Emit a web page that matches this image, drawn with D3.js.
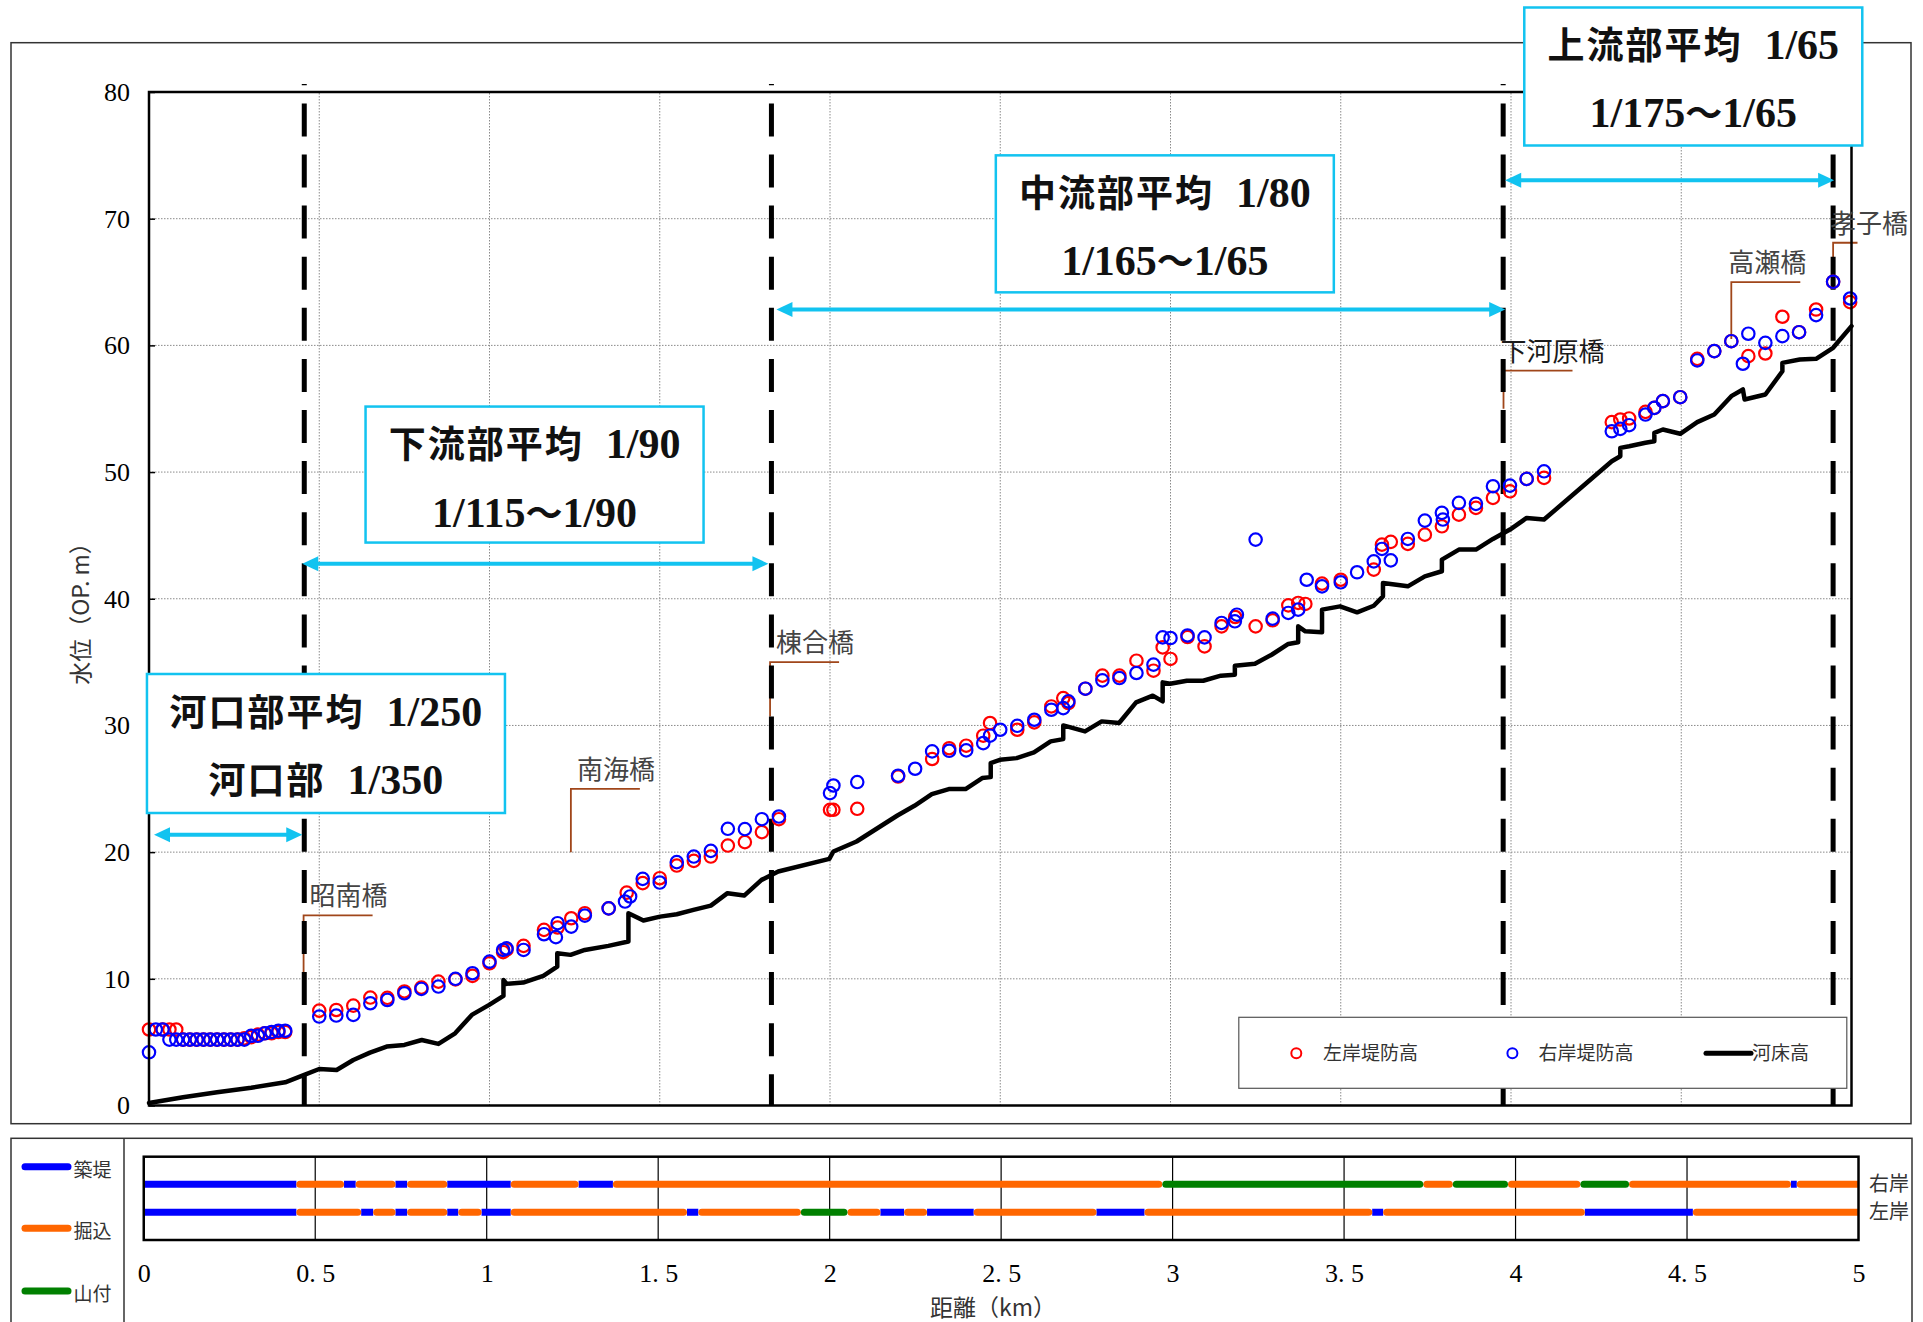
<!DOCTYPE html>
<html>
<head>
<meta charset="utf-8">
<script src="https://cdn.jsdelivr.net/npm/d3@7"></script>
<style>
  html, body { margin: 0; padding: 0; background: #fff; }
  svg { display: block; }
</style>
</head>
<body>
<svg id="chart" width="1923" height="1322"></svg>
<script>
// ---------------- data ----------------
const xTicks = [0, 0.5, 1, 1.5, 2, 2.5, 3, 3.5, 4, 4.5, 5];
const yTicks = [0, 10, 20, 30, 40, 50, 60, 70, 80];

// 左岸堤防高 [距離 km, 標高 m]
const leftBank = [
  [0.00,6.0],[0.04,6.0],[0.06,6.0],[0.08,6.0],[0.10,5.2],[0.12,5.2],[0.14,5.2],[0.16,5.2],
  [0.18,5.2],[0.20,5.2],[0.22,5.2],[0.24,5.2],[0.26,5.2],[0.28,5.3],[0.30,5.4],[0.32,5.6],
  [0.34,5.7],[0.36,5.7],[0.38,5.8],[0.40,5.8],
  [0.50,7.49],[0.55,7.54],[0.60,7.88],[0.65,8.52],[0.70,8.5],[0.75,9.0],[0.80,9.31],[0.85,9.78],
  [0.90,9.95],[0.95,10.23],[1.00,11.23],[1.04,12.1],[1.05,12.3],[1.10,12.6],[1.16,13.86],[1.20,14.05],
  [1.24,14.78],[1.28,15.18],[1.35,15.56],[1.403,16.8],[1.45,17.55],[1.50,17.94],[1.55,18.94],[1.60,19.31],
  [1.65,19.65],[1.70,20.52],[1.75,20.79],[1.80,21.58],[1.85,22.6],[2.00,23.34],[2.01,23.34],[2.08,23.42],
  [2.20,25.97],[2.30,27.35],[2.35,28.2],[2.40,28.4],[2.45,29.19],[2.47,30.19],[2.55,29.66],[2.60,30.24],
  [2.65,31.5],[2.685,32.16],[2.70,31.77],[2.75,32.9],[2.80,33.93],[2.85,33.93],[2.90,35.11],[2.95,34.32],
  [2.977,36.16],[3.00,35.25],[3.05,36.98],[3.10,36.24],[3.15,37.82],[3.19,38.56],[3.25,37.82],[3.30,38.3],
  [3.346,39.48],[3.375,39.67],[3.396,39.59],[3.445,41.19],[3.50,41.5],[3.597,42.3],[3.621,44.27],[3.647,44.49],
  [3.697,44.33],[3.747,45.06],[3.797,45.72],[3.847,46.64],[3.897,47.17],[3.947,47.96],[3.997,48.48],[4.046,49.46],
  [4.097,49.54],[4.296,53.94],[4.321,54.15],[4.347,54.23],[4.395,54.75],[4.421,55.07],[4.446,55.6],[4.497,55.91],
  [4.547,58.94],[4.597,59.55],[4.647,60.33],[4.697,59.15],[4.747,59.36],[4.797,62.26],[4.846,61.04],[4.896,62.83],
  [4.946,65.02],[4.996,63.41]
];

// 右岸堤防高 [距離 km, 標高 m]
const rightBank = [
  [0.00,4.2],[0.02,6.0],[0.04,6.0],[0.06,5.2],[0.08,5.2],[0.10,5.2],[0.12,5.2],[0.14,5.2],
  [0.16,5.2],[0.18,5.2],[0.20,5.2],[0.22,5.2],[0.24,5.2],[0.26,5.2],[0.28,5.2],[0.30,5.5],
  [0.32,5.5],[0.34,5.7],[0.36,5.8],[0.38,5.9],[0.40,5.9],
  [0.50,7.02],[0.55,7.1],[0.60,7.15],[0.65,8.07],[0.70,8.33],[0.75,8.86],[0.80,9.2],[0.85,9.39],
  [0.90,10.0],[0.95,10.44],[1.00,11.36],[1.04,12.28],[1.05,12.4],[1.10,12.28],[1.16,13.52],[1.195,13.29],
  [1.20,14.39],[1.24,14.12],[1.28,14.99],[1.35,15.56],[1.398,16.1],[1.413,16.5],[1.45,17.89],[1.50,17.6],
  [1.55,19.21],[1.60,19.65],[1.65,20.1],[1.70,21.84],[1.75,21.82],[1.80,22.6],[1.85,22.81],[2.00,24.66],
  [2.01,25.26],[2.08,25.53],[2.20,26.03],[2.25,26.58],[2.30,27.95],[2.35,28.0],[2.40,28.03],[2.45,28.6],
  [2.47,29.19],[2.50,29.66],[2.55,29.97],[2.60,30.45],[2.65,31.24],[2.685,31.37],[2.70,31.9],[2.75,32.9],
  [2.80,33.56],[2.85,33.74],[2.90,34.14],[2.95,34.8],[2.977,36.95],[3.00,36.9],[3.05,37.1],[3.10,36.95],
  [3.15,38.09],[3.189,38.22],[3.195,38.74],[3.25,44.67],[3.30,38.43],[3.346,38.88],[3.375,39.14],[3.40,41.5],
  [3.445,40.98],[3.50,41.3],[3.548,42.09],[3.597,42.95],[3.621,43.93],[3.647,43.03],[3.697,44.72],[3.747,46.17],
  [3.797,46.78],[3.80,46.25],[3.847,47.57],[3.897,47.49],[3.947,48.88],[3.997,48.93],[4.046,49.46],[4.097,50.06],
  [4.296,53.22],[4.321,53.41],[4.347,53.7],[4.395,54.54],[4.421,55.07],[4.446,55.6],[4.497,55.91],[4.547,58.81],
  [4.597,59.55],[4.647,60.33],[4.681,58.55],[4.697,60.92],[4.747,60.2],[4.797,60.73],[4.846,61.04],[4.896,62.39],
  [4.946,65.02],[4.996,63.7]
];

// 河床高 [距離 km, 標高 m]
const riverbed = [
  [0,0.2],[0.1,0.65],[0.2,1.05],[0.3,1.4],[0.4,1.83],[0.456,2.41],[0.50,2.88],[0.551,2.8],
  [0.60,3.59],[0.649,4.17],[0.698,4.65],[0.75,4.78],[0.801,5.17],[0.85,4.86],[0.899,5.7],[0.948,7.15],
  [0.999,7.94],[1.041,8.65],[1.041,9.91],[1.05,9.6],[1.099,9.7],[1.158,10.23],[1.199,10.96],[1.199,12.02],
  [1.238,11.89],[1.28,12.28],[1.349,12.6],[1.408,12.94],[1.408,15.18],[1.452,14.6],[1.501,14.91],[1.55,15.1],
  [1.599,15.44],[1.65,15.78],[1.699,16.76],[1.748,16.57],[1.799,17.81],[1.848,18.47],[1.998,19.47],[2.01,20.05],
  [2.078,20.84],[2.198,22.89],[2.248,23.66],[2.299,24.58],[2.349,24.98],[2.398,24.98],[2.447,25.85],[2.472,25.92],
  [2.472,27.03],[2.499,27.29],[2.548,27.42],[2.599,27.87],[2.648,28.74],[2.685,28.92],[2.685,30.0],[2.749,29.53],
  [2.798,30.32],[2.849,30.19],[2.899,31.82],[2.948,32.35],[2.977,31.9],[2.977,33.4],[2.999,33.29],[3.048,33.53],
  [3.096,33.53],[3.148,33.93],[3.189,34.0],[3.189,34.72],[3.248,34.87],[3.297,35.58],[3.346,36.43],[3.375,36.56],
  [3.375,37.82],[3.396,37.43],[3.445,37.35],[3.445,39.14],[3.498,39.4],[3.548,38.93],[3.597,39.45],[3.624,40.19],
  [3.624,41.25],[3.697,40.98],[3.747,41.77],[3.797,42.17],[3.797,43.09],[3.847,43.88],[3.897,43.88],[3.947,44.72],
  [3.997,45.46],[4.046,46.38],[4.097,46.25],[4.296,50.85],[4.321,51.25],[4.321,51.91],[4.347,52.04],[4.395,52.31],
  [4.421,52.43],[4.421,53.1],[4.446,53.36],[4.497,53.02],[4.547,53.94],[4.597,54.54],[4.647,55.99],[4.681,56.52],
  [4.686,55.73],[4.747,56.12],[4.797,57.96],[4.797,58.62],[4.848,58.88],[4.896,58.94],[4.946,59.81],[5.0,61.52]
];

// 区間ごとの平均勾配
const sectionNames = ["河口部", "下流部", "中流部", "上流部"];
const sectionStart = [0, 0.456, 1.828, 3.977];
const sectionEnd   = [0.456, 1.828, 3.977, 4.946];
const sectionAvg   = ["1/250", "1/90", "1/80", "1/65"];
const sectionRange = [["1/350"], ["1/115", "1/90"], ["1/165", "1/65"], ["1/175", "1/65"]];

// 橋梁 [名称, 距離 km, 引出線の高さ, 引出線の下端]
const bridges = [
  ["昭南橋", 0.454, 15.0, 10.5],
  ["南海橋", 1.239, 25.0, 20.0],
  ["棟合橋", 1.824, 35.0, 30.7],
  ["下河原橋", 3.978, 58.0, 55.0],
  ["高瀬橋", 4.647, 65.0, 60.5],
  ["孝子橋", 4.946, 68.1, 66.9]
];

// 護岸区分 [始点 km, 終点 km, 区分]
const bankTypes = ["築堤", "掘込", "山付"];
const rightBankType = [
  [0,0.445,"築堤"],[0.445,0.584,"掘込"],[0.584,0.618,"築堤"],[0.618,0.734,"掘込"],[0.734,0.768,"築堤"],
  [0.768,0.885,"掘込"],[0.885,1.070,"築堤"],[1.070,1.268,"掘込"],[1.268,1.368,"築堤"],[1.368,2.970,"掘込"],
  [2.970,3.731,"山付"],[3.731,3.817,"掘込"],[3.817,3.978,"山付"],[3.978,4.189,"掘込"],[4.189,4.331,"山付"],
  [4.331,4.803,"掘込"],[4.803,4.820,"築堤"],[4.820,5.0,"掘込"]
];
const leftBankType = [
  [0,0.445,"築堤"],[0.445,0.634,"掘込"],[0.634,0.669,"築堤"],[0.669,0.734,"掘込"],[0.734,0.768,"築堤"],
  [0.768,0.885,"掘込"],[0.885,0.917,"築堤"],[0.917,0.985,"掘込"],[0.985,1.070,"築堤"],[1.070,1.584,"掘込"],
  [1.584,1.617,"築堤"],[1.617,1.916,"掘込"],[1.916,2.052,"山付"],[2.052,2.148,"掘込"],[2.148,2.217,"築堤"],
  [2.217,2.284,"掘込"],[2.284,2.420,"築堤"],[2.420,2.778,"掘込"],[2.778,2.918,"築堤"],[2.918,3.582,"掘込"],
  [3.582,3.614,"築堤"],[3.614,4.202,"掘込"],[4.202,4.517,"築堤"],[4.517,5.0,"掘込"]
];

// ---------------- layout & style ----------------
const JP = "'Noto Sans CJK JP', 'Noto Sans', sans-serif";
const SERIF = "'Liberation Serif', 'DejaVu Serif', serif";
const CYAN = "#12C3F0";
const BROWN = "#A0461A";
const typeColor = { "築堤": "#0000FF", "掘込": "#FF6600", "山付": "#008000" };

const svg = d3.select("#chart");

const x = d3.scaleLinear().domain([0, 5]).range([149, 1851.5]);
const y = d3.scaleLinear().domain([0, 80]).range([1105.5, 92]);
const xs = d3.scaleLinear().domain([0, 5]).range([143.75, 1858.5]);

// outer frames
svg.append("rect").attr("x", 11).attr("y", 42.7).attr("width", 1900).attr("height", 1081)
  .attr("fill", "none").attr("stroke", "#333").attr("stroke-width", 1.5);
svg.append("rect").attr("x", 11).attr("y", 1138.3).attr("width", 1901).attr("height", 200)
  .attr("fill", "none").attr("stroke", "#333").attr("stroke-width", 1.5);
svg.append("line").attr("x1", 124).attr("x2", 124).attr("y1", 1138.3).attr("y2", 1322)
  .attr("stroke", "#333").attr("stroke-width", 1.5);

// ---------------- main plot ----------------
const grid = svg.append("g").attr("stroke", "#8a8a8a").attr("stroke-width", 1).attr("stroke-dasharray", "1.5,1.5");
yTicks.filter(v => v > 0 && v < 80).forEach(v => {
  grid.append("line").attr("x1", x(0)).attr("x2", x(5)).attr("y1", y(v)).attr("y2", y(v));
});
xTicks.filter(k => k > 0 && k < 5).forEach(k => {
  grid.append("line").attr("x1", x(k)).attr("x2", x(k)).attr("y1", y(0)).attr("y2", y(80));
});

// bridge leader lines
const bridgeG = svg.append("g");
bridges.forEach(([name, km, level, low]) => {
  const bx = x(km), by = y(level);
  const runEnd = Math.min(bx + 69, x(5) + 6);
  bridgeG.append("path")
    .attr("d", `M${runEnd},${by}H${bx}V${y(low)}`)
    .attr("fill", "none").attr("stroke", BROWN).attr("stroke-width", 1.8);
});

// section boundaries
sectionEnd.forEach(km => {
  svg.append("line").attr("x1", x(km)).attr("x2", x(km)).attr("y1", 84).attr("y2", y(0))
    .attr("stroke", "#000").attr("stroke-width", 5)
    .attr("stroke-dasharray", "33,18.1").attr("stroke-dashoffset", 31.7);
});

// riverbed
svg.append("path").datum(riverbed)
  .attr("d", d3.line().x(d => x(d[0])).y(d => y(d[1])))
  .attr("fill", "none").attr("stroke", "#000").attr("stroke-width", 4.5)
  .attr("stroke-linejoin", "round").attr("stroke-linecap", "round");

// bank crest heights
svg.append("g").selectAll("circle").data(leftBank).join("circle")
  .attr("cx", d => x(d[0])).attr("cy", d => y(d[1])).attr("r", 6.2)
  .attr("fill", "none").attr("stroke", "#FF0000").attr("stroke-width", 2.2);
svg.append("g").selectAll("circle").data(rightBank).join("circle")
  .attr("cx", d => x(d[0])).attr("cy", d => y(d[1])).attr("r", 6.2)
  .attr("fill", "none").attr("stroke", "#0000FF").attr("stroke-width", 2.2);

// plot frame
svg.append("rect").attr("x", x(0)).attr("y", y(80)).attr("width", x(5) - x(0)).attr("height", y(0) - y(80))
  .attr("fill", "none").attr("stroke", "#000").attr("stroke-width", 2.5);

// y axis
svg.append("g").attr("transform", `translate(${x(0)},0)`)
  .call(d3.axisLeft(y).tickValues(yTicks).tickSizeInner(-6).tickSizeOuter(0).tickPadding(19))
  .call(g => g.select(".domain").remove())
  .call(g => g.selectAll("line").attr("stroke", "#000").attr("stroke-width", 1.5))
  .call(g => g.selectAll("text").attr("font-family", SERIF).attr("font-size", 26).attr("fill", "#000"));

svg.append("text").attr("transform", "translate(89,608) rotate(-90)")
  .attr("text-anchor", "middle").attr("font-family", JP).attr("font-size", 23).attr("fill", "#333")
  .text("水位（OP. m）");

// legend
const lg = svg.append("g");
lg.append("rect").attr("x", 1238.8).attr("y", 1017.3).attr("width", 608).attr("height", 71)
  .attr("fill", "#fff").attr("stroke", "#555").attr("stroke-width", 1.2);
lg.append("circle").attr("cx", 1296.3).attr("cy", 1053.3).attr("r", 5)
  .attr("fill", "none").attr("stroke", "#FF0000").attr("stroke-width", 2);
lg.append("circle").attr("cx", 1512.4).attr("cy", 1053.3).attr("r", 5)
  .attr("fill", "none").attr("stroke", "#0000FF").attr("stroke-width", 2);
lg.append("line").attr("x1", 1706).attr("x2", 1751).attr("y1", 1053.3).attr("y2", 1053.3)
  .attr("stroke", "#000").attr("stroke-width", 5).attr("stroke-linecap", "round");
[["左岸堤防高", 1323], ["右岸堤防高", 1538.6], ["河床高", 1752]].forEach(([t, tx]) => {
  lg.append("text").attr("x", tx).attr("y", 1060).attr("font-family", JP).attr("font-size", 19)
    .attr("fill", "#333").text(t);
});

// slope annotations
const boxLayout = [
  { km: -0.006, v: 34.06, w: 358, h: 139, arrowV: 21.37, inL: 5, inR: -2 },
  { km: 0.636,  v: 55.17, w: 338, h: 136, arrowV: 42.77, inL: -2, inR: -3 },
  { km: 2.487,  v: 75.0,  w: 338, h: 137, arrowV: 62.84, inL: 5, inR: 2 },
  { km: 4.039,  v: 86.67, w: 338, h: 138, arrowV: 73.03, inL: 2, inR: 1 }
];

function writeLine(g, cx, baseline, parts) {
  const t = g.append("text").attr("x", cx).attr("y", baseline).attr("text-anchor", "middle").attr("fill", "#111");
  parts.forEach(p => {
    const s = t.append("tspan").text(p.t);
    if (p.jp) {
      s.attr("font-family", JP).attr("font-weight", 700).attr("font-size", 37);
      if (p.ls) s.attr("letter-spacing", p.ls);
    } else {
      s.attr("font-family", SERIF).attr("font-weight", 700).attr("font-size", 42);
    }
    if (p.dx) s.attr("dx", p.dx);
  });
}

const annG = svg.append("g");
sectionNames.forEach((name, i) => {
  const L = boxLayout[i];
  const bx = x(L.km), by = y(L.v);
  annG.append("rect").attr("x", bx).attr("y", by).attr("width", L.w).attr("height", L.h)
    .attr("fill", "#fff").attr("stroke", CYAN).attr("stroke-width", 2.5);
  const cx = bx + L.w / 2;
  writeLine(annG, cx, by + 51.5, [
    { t: name + "平均", jp: true, ls: 2 },
    { t: sectionAvg[i], dx: 22 }
  ]);
  const r = sectionRange[i];
  if (r.length === 1) {
    writeLine(annG, cx, by + 120, [
      { t: name, jp: true, ls: 2 },
      { t: r[0], dx: 22 }
    ]);
  } else {
    writeLine(annG, cx, by + 120, [
      { t: r[0] },
      { t: "～", jp: true },
      { t: r[1] }
    ]);
  }

  // double arrow spanning the section
  const ay = y(L.arrowV);
  const x1 = x(sectionStart[i]) + L.inL, x2 = x(sectionEnd[i]) + L.inR;
  const hl = 16, hh = 7.5;
  annG.append("line").attr("x1", x1 + hl - 2).attr("x2", x2 - hl + 2).attr("y1", ay).attr("y2", ay)
    .attr("stroke", CYAN).attr("stroke-width", 4);
  annG.append("path").attr("d", `M${x1},${ay}L${x1 + hl},${ay - hh}L${x1 + hl},${ay + hh}Z`).attr("fill", CYAN);
  annG.append("path").attr("d", `M${x2},${ay}L${x2 - hl},${ay - hh}L${x2 - hl},${ay + hh}Z`).attr("fill", CYAN);
});

// bridge names
bridges.forEach(([name, km, level]) => {
  const nx = km > 3.9 ? x(km) - 3 : x(km) + 6;
  svg.append("text").attr("x", nx).attr("y", y(level) - 10)
    .attr("font-family", JP).attr("font-size", 26)
    .attr("fill", name === "下河原橋" ? "#1a1a1a" : "#444")
    .text(name);
});

// ---------------- bank type strip ----------------
const stripTop = 1156.7, stripBot = 1240;
const rowY = { right: 1184.3, left: 1212.3 };
const strip = svg.append("g");
xTicks.filter(k => k > 0 && k < 5).forEach(k => {
  strip.append("line").attr("x1", xs(k)).attr("x2", xs(k)).attr("y1", stripTop).attr("y2", stripBot)
    .attr("stroke", "#000").attr("stroke-width", 1.2);
});
svg.append("defs").append("clipPath").attr("id", "stripClip")
  .append("rect").attr("x", xs(0)).attr("y", stripTop).attr("width", xs(5) - xs(0)).attr("height", stripBot - stripTop);
const segG = strip.append("g").attr("clip-path", "url(#stripClip)");
const capR = 3.5;
[[rightBankType, rowY.right], [leftBankType, rowY.left]].forEach(([segs, ry]) => {
  bankTypes.forEach(type => {
    segs.filter(s => s[2] === type).forEach(([a, b]) => {
      const round = type !== "築堤";
      const xa = xs(a) + (round && a > 0 ? capR : 0);
      const xb = xs(b) - (round && b < 5 ? capR : 0);
      segG.append("line").attr("x1", xa).attr("x2", xb).attr("y1", ry).attr("y2", ry)
        .attr("stroke", typeColor[type]).attr("stroke-width", 7)
        .attr("stroke-linecap", round ? "round" : "butt");
    });
  });
});
strip.append("rect").attr("x", xs(0)).attr("y", stripTop).attr("width", xs(5) - xs(0)).attr("height", stripBot - stripTop)
  .attr("fill", "none").attr("stroke", "#000").attr("stroke-width", 2.5);

svg.append("g").attr("transform", `translate(0,${stripBot})`)
  .call(d3.axisBottom(xs).tickValues(xTicks).tickSize(0).tickPadding(24)
    .tickFormat(d => Number.isInteger(d) ? String(d) : d.toFixed(1).replace(".", ". ")))
  .call(g => g.select(".domain").remove())
  .call(g => g.selectAll("text").attr("font-family", SERIF).attr("font-size", 26).attr("fill", "#000"));

svg.append("text").attr("x", 993).attr("y", 1316).attr("text-anchor", "middle")
  .attr("font-family", JP).attr("font-size", 23).attr("fill", "#333").text("距離（km）");

[["右岸", rowY.right], ["左岸", rowY.left]].forEach(([t, ty]) => {
  svg.append("text").attr("x", 1869).attr("y", ty + 7).attr("font-family", JP).attr("font-size", 20)
    .attr("fill", "#333").text(t);
});

// strip legend
const legendRowY = [1166.7, 1228.3, 1291];
bankTypes.forEach((type, i) => {
  svg.append("line").attr("x1", 25).attr("x2", 68).attr("y1", legendRowY[i]).attr("y2", legendRowY[i])
    .attr("stroke", typeColor[type]).attr("stroke-width", 7).attr("stroke-linecap", "round");
  svg.append("text").attr("x", 73.5).attr("y", legendRowY[i] + 10).attr("font-family", JP).attr("font-size", 19)
    .attr("fill", "#333").text(type);
});
</script>
</body>
</html>
